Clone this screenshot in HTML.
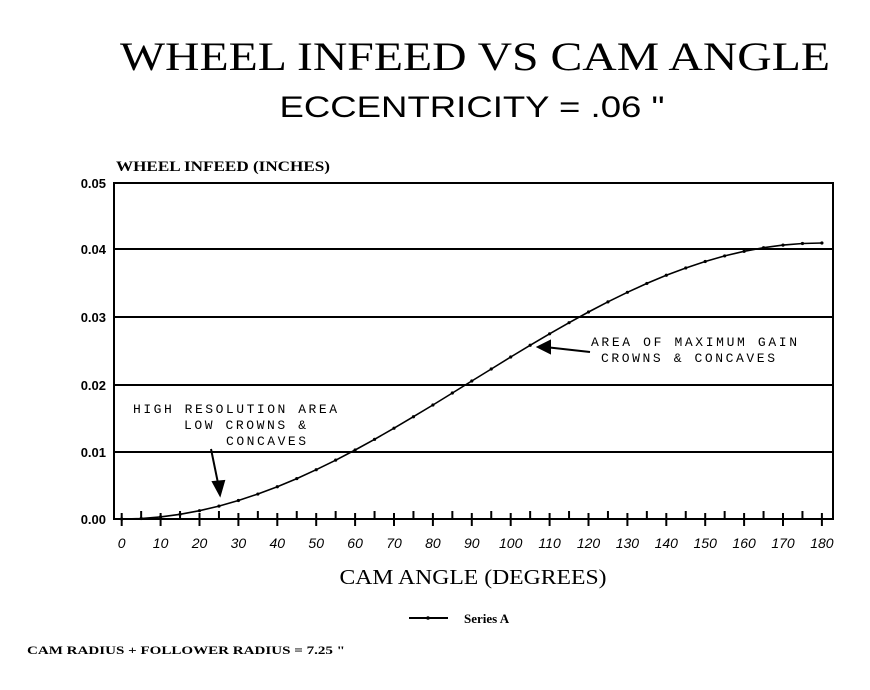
<!DOCTYPE html>
<html><head><meta charset="utf-8">
<style>
html,body{margin:0;padding:0;background:#fff;}
svg{display:block;}
text{fill:#000;}
</style></head>
<body>
<svg id="s" width="870" height="690" xmlns="http://www.w3.org/2000/svg">
<text x="475" y="70" text-anchor="middle" font-family="Liberation Serif, serif" font-size="40" textLength="710" lengthAdjust="spacingAndGlyphs" font-weight="normal">WHEEL INFEED VS CAM ANGLE</text>
<text x="472" y="117" text-anchor="middle" font-family="Liberation Sans, sans-serif" font-size="30" textLength="385" lengthAdjust="spacingAndGlyphs">ECCENTRICITY = .06 "</text>
<text x="116" y="171" font-family="Liberation Serif, serif" font-size="15" font-weight="bold" textLength="214" lengthAdjust="spacingAndGlyphs">WHEEL INFEED (INCHES)</text>
<g font-family="Liberation Sans, sans-serif" font-size="13" font-weight="bold" text-anchor="end">
<text x="106" y="188">0.05</text>
<text x="106" y="254">0.04</text>
<text x="106" y="322">0.03</text>
<text x="106" y="390">0.02</text>
<text x="106" y="457">0.01</text>
<text x="106" y="524">0.00</text>
</g>
<g stroke="#000" stroke-width="2" fill="none">
<rect x="114" y="183" width="719" height="336"/>
<line x1="114" y1="249" x2="833" y2="249"/>
<line x1="114" y1="317" x2="833" y2="317"/>
<line x1="114" y1="385" x2="833" y2="385"/>
<line x1="114" y1="452" x2="833" y2="452"/>
</g>
<g id="ticks" stroke="#000" stroke-width="2"></g>
<g id="xl" font-family="Liberation Sans, sans-serif" font-size="14" font-style="italic" text-anchor="middle"></g>
<path id="curve" stroke="#000" stroke-width="1.6" fill="none"/>
<g id="dots" fill="#000"></g>
<text x="473" y="584" text-anchor="middle" font-family="Liberation Serif, serif" font-size="21" textLength="267" lengthAdjust="spacingAndGlyphs">CAM ANGLE (DEGREES)</text>
<line x1="409" y1="618" x2="448" y2="618" stroke="#000" stroke-width="2"/>
<circle cx="428" cy="618" r="1.8"/>
<text x="464" y="623" font-family="Liberation Serif, serif" font-size="13" font-weight="bold">Series A</text>
<text x="27" y="654" font-family="Liberation Serif, serif" font-size="12" font-weight="bold" textLength="318" lengthAdjust="spacingAndGlyphs">CAM RADIUS + FOLLOWER RADIUS = 7.25 "</text>
<g font-family="Liberation Mono, monospace" font-size="13" lengthAdjust="spacingAndGlyphs">
<text x="133" y="413" textLength="204">HIGH RESOLUTION AREA</text>
<text x="184" y="429" textLength="122">LOW CROWNS &amp;</text>
<text x="226" y="445" textLength="80">CONCAVES</text>
<text x="591" y="346" textLength="206">AREA OF MAXIMUM GAIN</text>
<text x="601" y="362" textLength="174">CROWNS &amp; CONCAVES</text>
</g>
<g stroke="#000" stroke-width="2" fill="#000">
<line x1="211" y1="449" x2="219" y2="488"/>
<polygon points="213,482 224,481 220,495"/>
<line x1="590" y1="352" x2="545" y2="347"/>
<polygon points="550,341 550,353 538,347"/>
</g>
</svg>
<script>
var NS="http://www.w3.org/2000/svg";
function X(t){return 121.7+3.89*t;}
function Y(t){return 519-138*(1-Math.cos(t*Math.PI/180));}
var d="",dots=document.getElementById("dots");
for(var t=0;t<=180;t+=5){
 d+=(t?"L":"M")+X(t).toFixed(1)+","+Y(t).toFixed(1);
 var c=document.createElementNS(NS,"circle");c.setAttribute("cx",X(t));c.setAttribute("cy",Y(t));c.setAttribute("r",1.6);dots.appendChild(c);
}
document.getElementById("curve").setAttribute("d",d);
var tk=document.getElementById("ticks"),xl=document.getElementById("xl");
for(var t=0;t<=180;t+=5){
 var l=document.createElementNS(NS,"line");
 var up=(t%10==0)?6:8,dn=(t%10==0)?7:0;
 l.setAttribute("x1",X(t));l.setAttribute("x2",X(t));l.setAttribute("y1",519-up);l.setAttribute("y2",519+dn);tk.appendChild(l);
 if(t%10==0){var e=document.createElementNS(NS,"text");e.setAttribute("x",X(t));e.setAttribute("y",548);e.textContent=t;xl.appendChild(e);}
}
</script>
</body></html>
